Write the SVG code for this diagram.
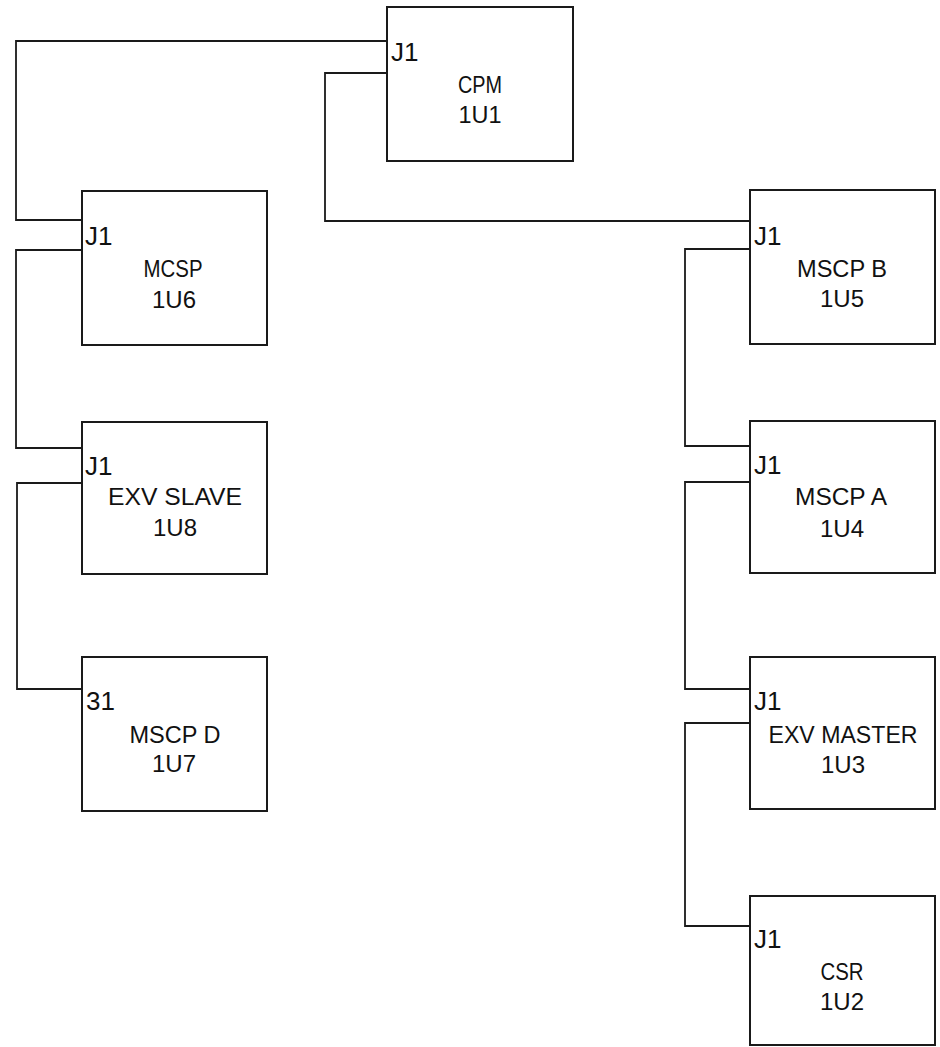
<svg xmlns="http://www.w3.org/2000/svg" width="940" height="1047" viewBox="0 0 940 1047">
<style>
.box{fill:none;stroke:#1a1a1a;stroke-width:2}
.wire{fill:none;stroke:#1a1a1a;stroke-width:1.8}
.j{font-family:"Liberation Sans",Arial,sans-serif;font-size:26px;fill:#111}
.n{font-family:"Liberation Sans",Arial,sans-serif;font-size:24px;fill:#111;text-anchor:middle}
</style>
<rect width="940" height="1047" fill="#fff"/>
<g id="connectors">
<path class="wire" d="M387,41 H16 V220 H82"/>
<path class="wire" d="M387,73 H325 V221 H750"/>
<path class="wire" d="M82,250 H16 V448 H82"/>
<path class="wire" d="M82,483 H17 V689 H82"/>
<path class="wire" d="M750,249 H685 V446 H750"/>
<path class="wire" d="M750,482 H685 V689 H750"/>
<path class="wire" d="M750,723 H685 V926 H750"/>
</g>
<g id="cpm">
<rect class="box" x="387" y="7" width="186" height="154"/>
<text class="j" x="391" y="61">J1</text>
<text class="n" x="480" y="93" textLength="44" lengthAdjust="spacingAndGlyphs">CPM</text>
<text class="n" x="480" y="123" textLength="43" lengthAdjust="spacingAndGlyphs">1U1</text>
</g>
<g id="mcsp">
<rect class="box" x="82" y="191" width="185" height="154"/>
<text class="j" x="85" y="245">J1</text>
<text class="n" x="173" y="277" textLength="59" lengthAdjust="spacingAndGlyphs">MCSP</text>
<text class="n" x="174" y="308">1U6</text>
</g>
<g id="exv-slave">
<rect class="box" x="82" y="422" width="185" height="152"/>
<text class="j" x="85" y="475">J1</text>
<text class="n" x="175" y="505" textLength="134" lengthAdjust="spacingAndGlyphs">EXV SLAVE</text>
<text class="n" x="175" y="536">1U8</text>
</g>
<g id="mscp-d">
<rect class="box" x="82" y="657" width="185" height="154"/>
<text class="j" x="86" y="710">31</text>
<text class="n" x="175" y="743" textLength="91" lengthAdjust="spacingAndGlyphs">MSCP D</text>
<text class="n" x="174" y="772">1U7</text>
</g>
<g id="mscp-b">
<rect class="box" x="750" y="190" width="185" height="154"/>
<text class="j" x="754" y="245">J1</text>
<text class="n" x="842" y="277" textLength="90" lengthAdjust="spacingAndGlyphs">MSCP B</text>
<text class="n" x="842" y="307">1U5</text>
</g>
<g id="mscp-a">
<rect class="box" x="750" y="421" width="185" height="152"/>
<text class="j" x="754" y="474">J1</text>
<text class="n" x="841" y="505" textLength="92" lengthAdjust="spacingAndGlyphs">MSCP A</text>
<text class="n" x="842" y="537">1U4</text>
</g>
<g id="exv-master">
<rect class="box" x="750" y="657" width="185" height="152"/>
<text class="j" x="754" y="710">J1</text>
<text class="n" x="843" y="743" textLength="149" lengthAdjust="spacingAndGlyphs">EXV MASTER</text>
<text class="n" x="843" y="773">1U3</text>
</g>
<g id="csr">
<rect class="box" x="750" y="896" width="185" height="149"/>
<text class="j" x="754" y="948">J1</text>
<text class="n" x="842" y="980" textLength="43" lengthAdjust="spacingAndGlyphs">CSR</text>
<text class="n" x="842" y="1010">1U2</text>
</g>
</svg>
